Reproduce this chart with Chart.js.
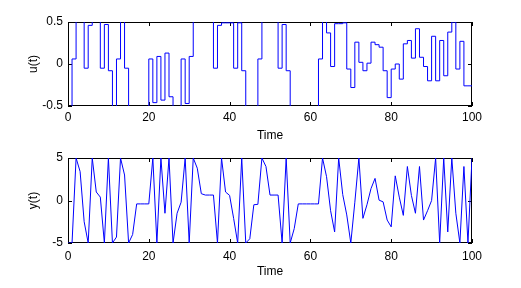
<!DOCTYPE html>
<html><head><meta charset="utf-8">
<script src="https://cdn.jsdelivr.net/npm/chart.js@4.4.0/dist/chart.umd.min.js"></script>
<style>
html,body{margin:0;padding:0;background:#fff;}
#wrap{position:relative;width:521px;height:288px;overflow:hidden;background:#fff;}
canvas{position:absolute;left:0;}
#c1{top:0;}
#c2{top:144px;}
</style></head><body>
<div id="wrap"><canvas id="c1" width="521" height="144"></canvas><canvas id="c2" width="521" height="144"></canvas></div>
<script>
// time samples
const timeSteps = [0,1,2,3,4,5,6,7,8,9,10,11,12,13,14,15,16,17,18,19,20,21,22,23,24,25,26,27,28,29,30,31,32,33,34,35,36,37,38,39,40,41,42,43,44,45,46,47,48,49,50,51,52,53,54,55,56,57,58,59,60,61,62,63,64,65,66,67,68,69,70,71,72,73,74,75,76,77,78,79,80,81,82,83,84,85,86,87,88,89,90,91,92,93,94,95,96,97,98,99,100];
// input u(t) (values beyond +-0.5 are clipped by the axes)
const uValues = [
 -1,-1,0.06,1,1,-0.05,0.46,1,1,-0.05,
 0.47,-0.08,-1,0.06,1,-0.05,-1,-1,-1,-1,
 -1,0.06,-0.46,0.09,-0.43,0.13,-0.39,-1,-1,0.06,
 -0.47,0.09,1,1,1,1,1,-0.05,0.46,0.49,
 0.49,0.49,-0.05,0.49,-0.08,-1,-1,-1,0.06,1,
 1,1,1,-0.05,0.47,-0.08,-1,-1,-1,-1,
 -1,-1,-1,0.06,1,0.37,-0.03,0.48,0.48,0.49,
 -0.06,-0.28,0.26,0.02,-0.08,0.01,0.26,0.23,0.2,-0.08,
 -0.4,-0.06,0.0,-0.18,0.24,0.28,0.07,0.42,0.08,-0.03,
 -0.2,0.33,-0.2,0.28,-0.14,0.38,0.5,-0.06,0.27,-0.26,
 -0.26];
// output y(t)
const yValues = [
 -5,-5,5,3.4,-2.5,-5,5,1.0,0.4,-5,
 5,-5,-4.3,5,3,-5,-4,-0.4,-0.4,-0.4,
 -0.4,5,-5,5,-1.5,5,-5,-1.5,-0.2,5,
 -5,5,3.8,0.8,0.64,0.64,0.64,-5,5,1.0,
 0.6,-2.1,-5,5,-5,-4.5,-0.5,-0.45,5,4,
 0.64,0.64,0.64,-5,5,-5,-3.3,-0.4,-0.4,-0.4,
 -0.4,-0.4,-0.4,5,2.8,-1.2,-3.7,5,0.7,-1.7,
 -5,-0.2,5,-2.1,-0.5,1.4,2.6,0.04,-0.16,-2.3,
 -3.1,2.9,0.4,-1.75,4.0,0.6,-1.5,4.0,-2.3,-1.2,
 0.0,5,-5,5,-3.7,5,-1.5,-5,4,-5,
 5];
const xTickStep = 20;
const uTicks = [-0.5, 0, 0.5];
const yTicks = [-5, 0, 5];

Chart.defaults.font.family = "'Liberation Sans', Arial, Helvetica, sans-serif";
Chart.defaults.font.size = 12;
Chart.defaults.color = '#000';

const boxTicks = {
  id: 'boxTicks',
  beforeDatasetsDraw(chart) {
    const {ctx, chartArea: a, scales: {x, y}} = chart;
    const L = 4;
    ctx.save();
    ctx.strokeStyle = '#000';
    ctx.lineWidth = 1;
    ctx.beginPath();
    x.ticks.forEach(t => {
      const px = Math.round(x.getPixelForValue(t.value)) + 0.5;
      ctx.moveTo(px, a.bottom); ctx.lineTo(px, a.bottom - L);
      ctx.moveTo(px, a.top); ctx.lineTo(px, a.top + L);
    });
    y.ticks.forEach(t => {
      const py = Math.round(y.getPixelForValue(t.value)) + 0.5;
      ctx.moveTo(a.left, py); ctx.lineTo(a.left + L, py);
      ctx.moveTo(a.right, py); ctx.lineTo(a.right - L, py);
    });
    ctx.stroke();
    ctx.strokeRect(Math.round(a.left) + 0.5, Math.round(a.top) + 0.5,
                   Math.round(a.right - a.left) - 1, Math.round(a.bottom - a.top) - 1);
    ctx.restore();
  }
};

function makeChart(id, values, stepped, ymin, ymax, ystep, ylabel, cfg) {
  const pts = timeSteps.map((t, i) => ({x: t, y: values[i]}));
  return new Chart(document.getElementById(id), {
    type: 'line',
    data: { datasets: [{
      data: pts, borderColor: '#0000ff', borderWidth: 1, pointRadius: 0,
      stepped: stepped, tension: 0, fill: false
    }]},
    options: {
      responsive: false, animation: false, devicePixelRatio: 1,
      plugins: { legend: {display: false}, tooltip: {enabled: false} },
      layout: { padding: {left: 0, right: 49, top: cfg.top, bottom: 0} },
      scales: {
        x: {
          type: 'linear', min: 0, max: 100,
          ticks: { stepSize: xTickStep, padding: cfg.xpad, maxRotation: 0, autoSkip: false },
          grid: { display: false, drawTicks: false },
          border: { display: false },
          title: { display: true, text: 'Time', padding: {top: 0, bottom: cfg.tpad} },
          afterFit(s) { s.height = cfg.xh; }
        },
        y: {
          min: ymin, max: ymax,
          ticks: { stepSize: ystep, padding: 5 },
          grid: { display: false, drawTicks: false },
          border: { display: false },
          title: { display: true, text: ylabel, padding: {top: 26, bottom: 0} },
          afterFit(s) { s.width = 68; }
        }
      }
    },
    plugins: [boxTicks]
  });
}

makeChart('c1', uValues, 'after', uTicks[0], uTicks[2], uTicks[2] - uTicks[1], 'u(t)', {top: 22, xh: 38, xpad: 4, tpad: 1});
makeChart('c2', yValues, false, yTicks[0], yTicks[2], yTicks[2] - yTicks[1], 'y(t)', {top: 14, xh: 45, xpad: 6, tpad: 9});
</script>
</body></html>
